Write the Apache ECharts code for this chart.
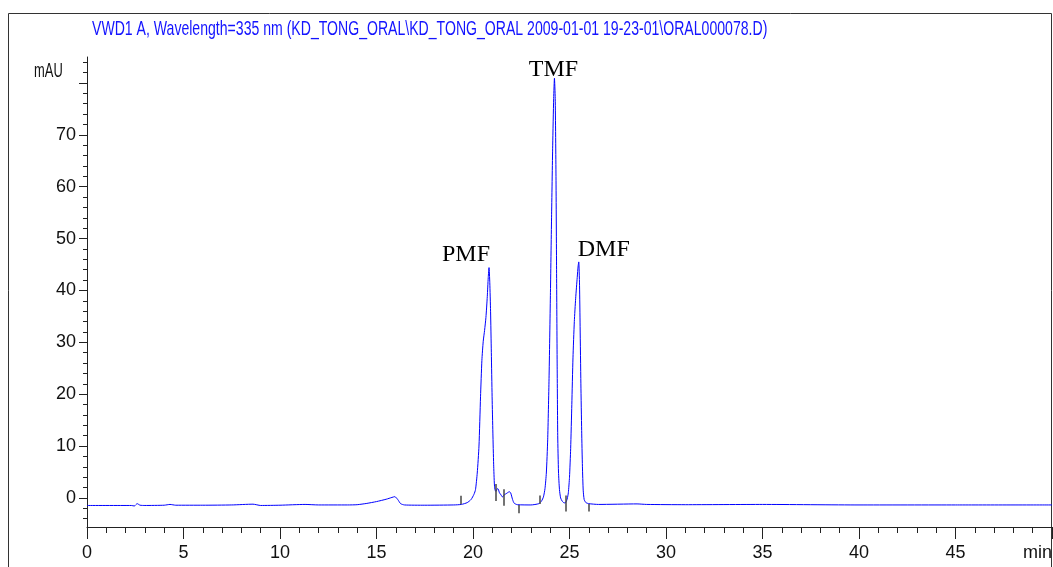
<!DOCTYPE html>
<html><head><meta charset="utf-8">
<script src="https://cdn.jsdelivr.net/npm/echarts@6/dist/echarts.min.js"></script>
<style>html,body{margin:0;padding:0;background:#fff}#c{width:1053px;height:567px}</style>
</head><body><div id="c"></div>
<script>
const titleText = 'VWD1 A, Wavelength=335 nm (KD_TONG_ORAL\\KD_TONG_ORAL 2009-01-01 19-23-01\\ORAL000078.D)';
const yUnit = 'mAU';
const xUnit = 'min';

// retention time (min)
const times = [
  0, 2.3, 2.45, 2.6, 2.75, 3.0, 4.0, 4.3, 4.6, 6.0, 7.5, 8.6, 9.0, 10.0, 11.3, 12.0, 13.5,
  14.0, 14.5, 15.0, 15.5, 15.8, 15.95, 16.1, 16.25, 16.45, 17.5, 19.0,
  19.4, 19.7, 19.9, 20.05, 20.13, 20.22, 20.31, 20.39, 20.46, 20.53, 20.6, 20.67, 20.74, 20.79, 20.83,
  20.87, 20.91, 20.95, 20.99, 21.03, 21.07, 21.11, 21.15, 21.2, 21.26, 21.31, 21.37, 21.45, 21.52,
  21.62, 21.75, 21.88, 21.95, 22.05, 22.13, 22.3, 23.0,
  23.41, 23.55, 23.65, 23.73, 23.8, 23.87, 23.94, 24.01, 24.07, 24.13, 24.18, 24.22,
  24.26, 24.3, 24.33, 24.36, 24.39, 24.43, 24.48, 24.54, 24.62, 24.72, 24.8,
  24.88, 24.94, 25.0, 25.06, 25.12, 25.18, 25.25, 25.32, 25.4, 25.45, 25.48,
  25.52, 25.55, 25.59, 25.63, 25.67, 25.71, 25.76, 25.85, 26.0, 26.5,
  28.5, 29.0, 31.0, 35.0, 40.0, 45.0, 50.0
];
// absorbance (mAU)
const signal = [
  -1.45, -1.45, -1.55, -1.1, -1.4, -1.45, -1.4, -1.25, -1.4, -1.4, -1.35, -1.2, -1.45, -1.4, -1.25, -1.35, -1.35,
  -1.3, -1.05, -0.7, -0.25, 0.1, 0.25, -0.3, -1.1, -1.35, -1.4, -1.35,
  -1.25, -0.9, -0.3, 0.7, 1.6, 4.8, 10, 19.5, 26.5, 30.2, 32.3, 34.8, 38.8, 42.5, 44.4,
  41.5, 36, 28, 19.5, 12.5, 6.5, 2.5, 1.4, 1.3, 1.8, 1.7, 1.0, 0.6, 0.2,
  0.6, 0.9, 1.2, 1.0, -0.3, -1.0, -1.3, -1.35,
  -1.1, -0.6, 0.2, 1.8, 4.8, 11.2, 23, 39, 54, 68, 77, 80.9,
  77, 62, 44, 26, 12, 5, 1.6, 0.0, -0.6, -0.95, -0.9,
  -0.2, 1.0, 4.0, 9.5, 18, 27, 34, 38.5, 42.5, 44.8, 45.5,
  41, 33, 22, 13, 6, 1.5, -0.3, -0.9, -1.1, -1.25,
  -1.15, -1.25, -1.3, -1.25, -1.35, -1.35, -1.35
];

const peakNames = ['PMF', 'TMF', 'DMF'];
const peakTimes = [20.83, 24.22, 25.48];
const peakHeights = [44.4, 80.9, 45.5];

// integration event marks
const eventTimes = [19.35, 21.19, 21.58, 22.39, 23.45, 24.79, 26.0];
const eventTop = [0.4, 2.7, 1.7, -1.35, 0.45, 0.45, -1.15];
const eventBottom = [-1.2, -0.6, -1.5, -2.95, -1.15, -2.6, -2.6];

const yMajorTicks = [0, 10, 20, 30, 40, 50, 60, 70, 80];
const yLabelValues = [0, 10, 20, 30, 40, 50, 60, 70];
const yMinorTicks = [-4, -2, 2, 4, 6, 8, 12, 14, 16, 18, 22, 24, 26, 28, 32, 34, 36, 38,
  42, 44, 46, 48, 52, 54, 56, 58, 62, 64, 66, 68, 72, 74, 76, 78, 82, 84];

const Y_MIN = -5.6, Y_MAX = 85;
const labelOffsets = [[-23, -13], [-1, -9], [25, -12]];
const sans = '"Liberation Sans Narrow", "Liberation Sans", Arial, sans-serif';

const chart = echarts.init(document.getElementById('c'), null, {renderer: 'canvas'});
chart.setOption({
  animation: false,
  backgroundColor: '#fff',
  grid: {left: 87, right: 1, top: 57, bottom: 40, containLabel: false, outerBoundsMode: 'none'},
  graphic: [
    {type: 'rect', z: -10, shape: {x: 8.5, y: 13.5, width: 1043, height: 620},
     style: {fill: 'none', stroke: '#333', lineWidth: 1}},
    {type: 'text', x: 92, y: 19, scaleX: 0.782, scaleY: 1.12,
     style: {text: titleText, fill: '#1414ff', font: '18px ' + sans, verticalAlign: 'top'}},
    {type: 'text', x: 34, y: 61, scaleX: 0.68, scaleY: 1.1,
     style: {text: yUnit, fill: '#111', font: '19px ' + sans, verticalAlign: 'top'}}
  ],
  xAxis: {
    type: 'value', min: 0, max: 50, interval: 5,
    axisLine: {show: true, onZero: false, lineStyle: {color: '#222', width: 1}},
    axisTick: {show: true, length: 12, lineStyle: {color: '#222'}},
    minorTick: {show: true, splitNumber: 5, length: 6, lineStyle: {color: '#222'}},
    splitLine: {show: false},
    axisLabel: {margin: 17, color: '#111', fontFamily: sans, fontSize: 18,
      showMaxLabel: true, alignMaxLabel: 'right',
      formatter: v => (v === 50 ? xUnit : String(v))}
  },
  yAxis: [
    {
      type: 'value', min: Y_MIN, max: Y_MAX,
      axisLine: {show: true, onZero: false, lineStyle: {color: '#222', width: 1}},
      axisTick: {show: true, length: 8, customValues: yMajorTicks, lineStyle: {color: '#222'}},
      splitLine: {show: false},
      axisLabel: {margin: 11, color: '#111', fontFamily: sans, fontSize: 18, customValues: yLabelValues}
    },
    {
      type: 'value', min: Y_MIN, max: Y_MAX, position: 'left',
      axisLine: {show: false},
      axisTick: {show: true, length: 4, customValues: yMinorTicks, lineStyle: {color: '#222'}},
      splitLine: {show: false},
      axisLabel: {show: false}
    }
  ],
  series: [{
    type: 'line',
    yAxisIndex: 0,
    data: times.map((t, i) => [t, signal[i]]),
    showSymbol: false,
    smooth: 0.2,
    lineStyle: {color: '#0000ff', width: 1},
    silent: true,
    markLine: {
      silent: true, symbol: ['none', 'none'], animation: false,
      lineStyle: {color: '#444', width: 1.5, type: 'solid'},
      label: {show: false},
      data: eventTimes.map((t, i) => [{coord: [t, eventTop[i]]}, {coord: [t, eventBottom[i]]}])
    },
    markPoint: {
      silent: true, symbol: 'circle', symbolSize: 0, animation: false,
      label: {show: true, position: 'inside', formatter: '{b}', color: '#000',
        fontFamily: '"Liberation Serif", "Times New Roman", serif', fontSize: 24},
      data: peakNames.map((n, i) => ({name: n, coord: [peakTimes[i], peakHeights[i]],
        label: {offset: labelOffsets[i]}}))
    }
  }]
});
</script></body></html>
